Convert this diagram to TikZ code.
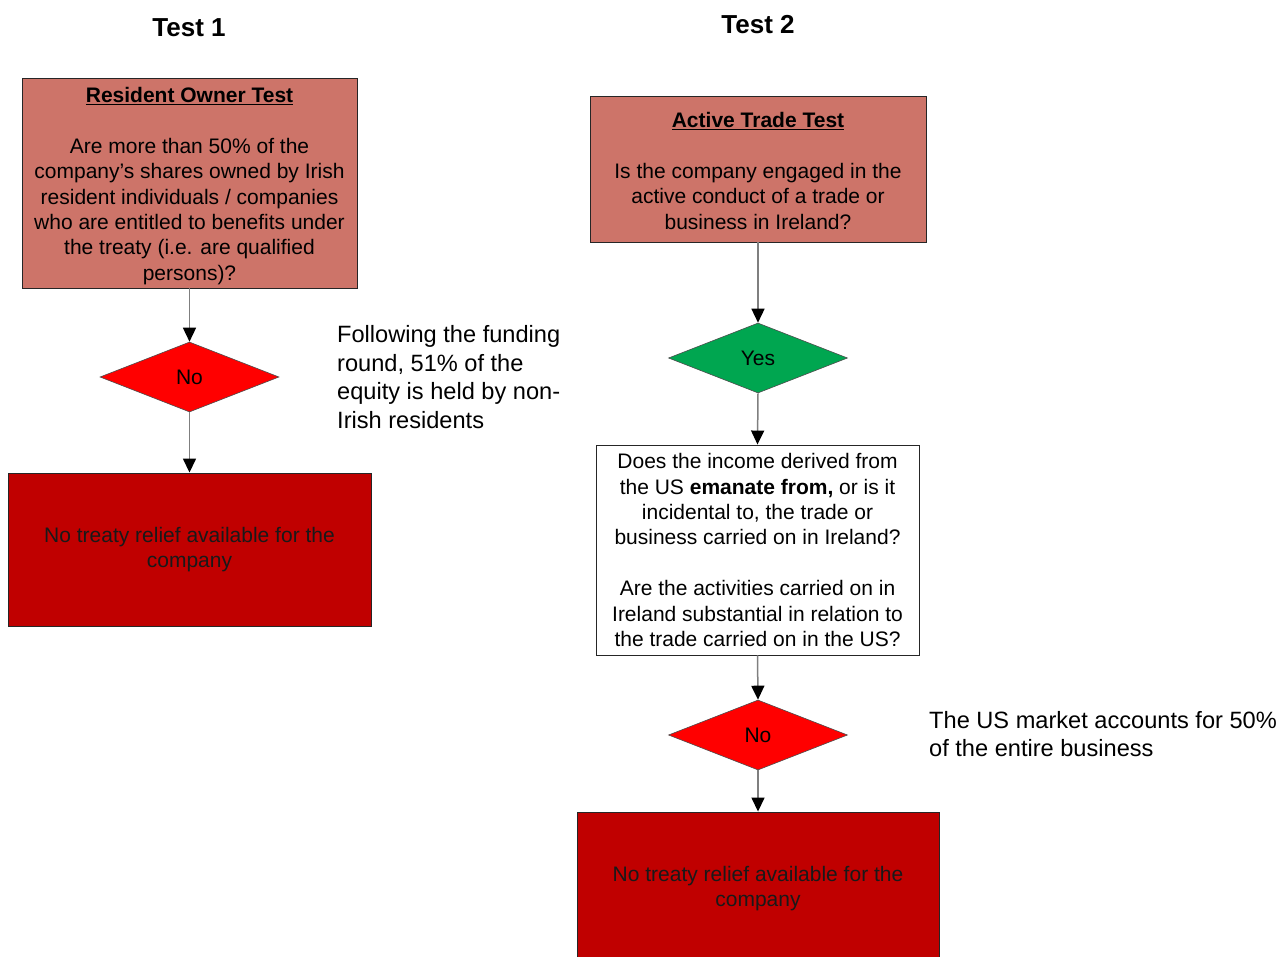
\documentclass[tikz,border=0pt]{standalone}
\usepackage{fontspec}
\setmainfont{Liberation Sans}
\usetikzlibrary{arrows.meta,shapes.geometric}
\definecolor{salmon}{HTML}{CD7469}
\definecolor{darkred}{HTML}{C00000}
\definecolor{dgreen}{HTML}{00A650}
\definecolor{brightred}{HTML}{FF0000}
\definecolor{conn}{HTML}{7F7F7F}
\begin{document}
\begin{tikzpicture}[x=1pt,y=-1pt,
  boxtext/.style={inner sep=0pt, align=center, font=\fontsize{21}{25.4}\selectfont},
  testbox/.style={boxtext, draw=black!85, fill=salmon, line width=0.9pt},
  endbox/.style={boxtext, draw=black!85, fill=darkred, line width=0.9pt, text=black!90},
  qbox/.style={boxtext, draw=black!85, fill=white, line width=0.9pt},
  decision/.style={diamond, draw=black!70, line width=0.6pt, inner sep=0pt, minimum width=179pt, minimum height=70pt, font=\fontsize{21}{25}\selectfont},
  note/.style={inner sep=0pt, align=left, anchor=west, font=\fontsize{23.6}{28.7}\selectfont},
  heading/.style={inner sep=0pt, font=\fontsize{26}{31}\selectfont\bfseries},
  flow/.style={draw=conn, line width=1.5pt, -{Triangle[width=13pt,length=14pt,color=black]}}
]
\useasboundingbox (0,0) rectangle (1280,957);

\node[heading] (t1) at (189,28) {Test 1};
\node[heading] (t2) at (758,25) {Test 2};

\node[testbox, minimum width=335pt, minimum height=210pt] (b1) at (189.5,183)
 {\rule{0pt}{21pt}\underline{\textbf{Resident Owner Test}}\\[25.4pt]
  Are more than 50\% of the\\
  company’s shares owned by Irish\\
  resident individuals / companies\\
  who are entitled to benefits under\\
  the treaty (i.e. are qualified\\
  persons)?};

\node[decision, fill=brightred] (d1) at (189.5,377) {No};

\node[endbox, minimum width=363pt, minimum height=153pt] (e1) at (189.5,549.5)
 {No treaty relief available for the\\company};

\node[note] (n1) at (337,377)
 {Following the funding\\round, 51\% of the\\equity is held by non-\\Irish residents};

\node[testbox, minimum width=336pt, minimum height=146pt] (b2) at (758,169)
 {\rule{0pt}{19pt}\underline{\textbf{Active Trade Test}}\\[25.4pt]
  Is the company engaged in the\\
  active conduct of a trade or\\
  business in Ireland?};

\node[decision, fill=dgreen] (d2) at (758,358) {Yes};

\node[qbox, minimum width=323pt, minimum height=210pt] (q) at (757.5,550)
 {Does the income derived from\\
  the US \textbf{emanate from,} or is it\\
  incidental to, the trade or\\
  business carried on in Ireland?\\[25.4pt]
  Are the activities carried on in\\
  Ireland substantial in relation to\\
  the trade carried on in the US?};

\node[decision, fill=brightred] (d3) at (758,735) {No};

\node[note] (n2) at (929,734)
 {The US market accounts for 50\%\\of the entire business};

\node[endbox, minimum width=362pt, minimum height=153pt] (e2) at (758,888.5)
 {No treaty relief available for the\\company};

\draw[flow] (b1.south) -- (d1.north);
\draw[flow] (d1.south) -- (e1.north);
\draw[flow] (b2.south) -- (d2.north);
\draw[flow] (d2.south) -- (q.north);
\draw[flow] (q.south) -- (d3.north);
\draw[flow] (d3.south) -- (e2.north);
\end{tikzpicture}
\end{document}
